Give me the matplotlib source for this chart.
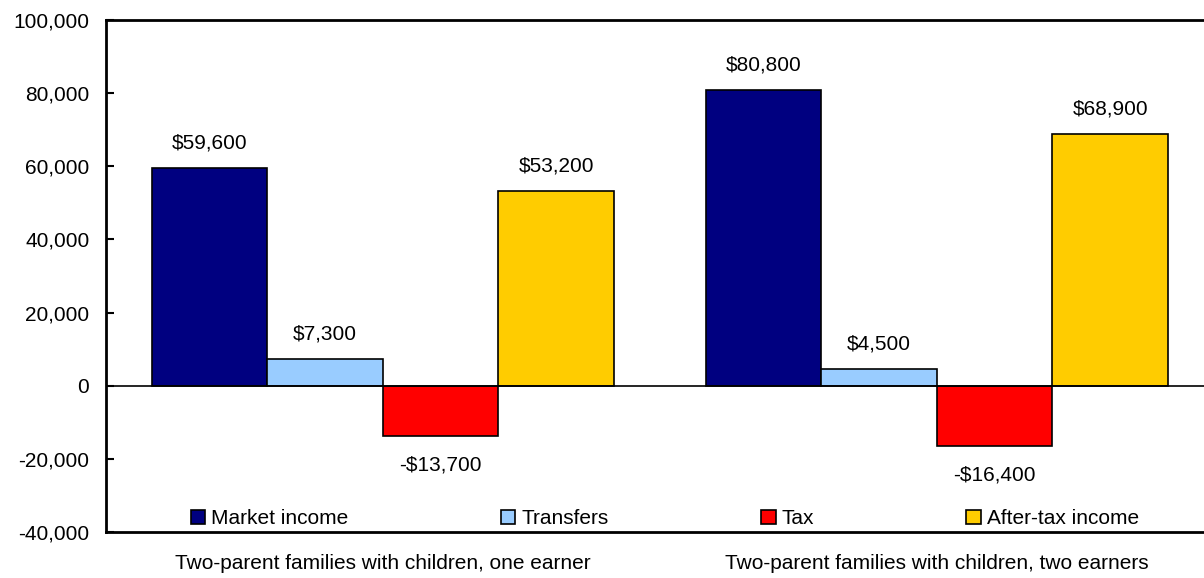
import matplotlib.pyplot as plt
import numpy as np

plt.rcParams['font.family'] = ['Liberation Sans', 'DejaVu Sans']

groups = ['Two-parent families with children, one earner',
          'Two-parent families with children, two earners']
series = ['Market income', 'Transfers', 'Tax', 'After-tax income']
market = [59600, 80800]
transfers = [7300, 4500]
tax = [-13700, -16400]
after_tax = [53200, 68900]
colors = ['#000080', '#99CCFF', '#FF0000', '#FFCC00']

values = [market, transfers, tax, after_tax]
fs = 15

fig = plt.figure(figsize=(12.04, 5.78), dpi=100)
ax = fig.add_axes([106 / 1204, 1 - 532 / 578, 1 - 106 / 1204, 512 / 578])

x = np.arange(len(groups))
w = 0.2085
for i, (name, vals, col) in enumerate(zip(series, values, colors)):
    pos = x + (i - 1.5) * w
    bars = ax.bar(pos, vals, w, color=col, edgecolor='black', linewidth=1.2,
                  label=name, zorder=2)
    for b, v in zip(bars, vals):
        txt = ('-$' if v < 0 else '$') + f'{abs(v):,}'
        off = 11 if v >= 0 else -14
        ax.annotate(txt, (b.get_x() + b.get_width() / 2, v), xytext=(0, off),
                    textcoords='offset points', ha='center',
                    va='bottom' if v >= 0 else 'top', fontsize=fs)

ax.axhline(0, color='black', linewidth=1.2, zorder=3)
ax.set_xlim(-0.5, 1.482)
ax.set_ylim(-40000, 100000)
ax.set_yticks(range(-40000, 100001, 20000))
ax.set_yticklabels([f'{t:,}' for t in range(-40000, 100001, 20000)], fontsize=fs)
ax.set_xticks(x)
ax.set_xticklabels(groups, fontsize=fs)
ax.tick_params(axis='y', direction='in', length=6, width=1.5, pad=12)
ax.tick_params(axis='x', length=0, pad=16)
ax.spines['right'].set_visible(False)
for s in ['left', 'top', 'bottom']:
    ax.spines[s].set_linewidth(2)

ax.legend(loc='lower left', bbox_to_anchor=(0.06, -0.029), ncol=4, frameon=False,
          fontsize=fs, handlelength=0.7, handleheight=0.7, handletextpad=0.3,
          columnspacing=7.3)

fig.savefig('out.png')
